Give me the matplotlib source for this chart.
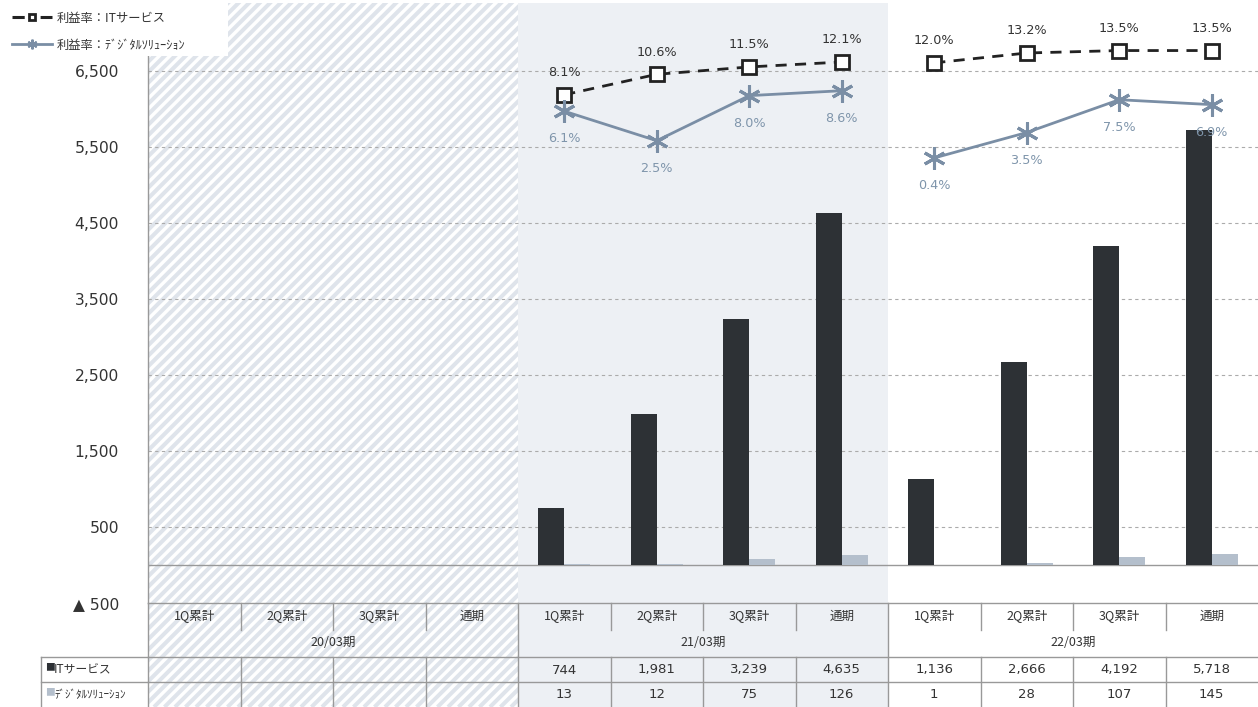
import numpy as np
import matplotlib.pyplot as plt
from matplotlib.patches import Rectangle
from matplotlib.lines import Line2D
from matplotlib.collections import LineCollection
from matplotlib.transforms import blended_transform_factory, IdentityTransform

plt.rcParams['font.family'] = ['DejaVu Sans', 'Noto Sans CJK JP']

JP = ['Noto Sans CJK JP', 'DejaVu Sans']

# data
categories = ['1Q累計', '2Q累計', '3Q累計', '通期'] * 3
periods = ['20/03期', '21/03期', '22/03期']
it_sales = [None] * 4 + [744, 1981, 3239, 4635, 1136, 2666, 4192, 5718]
ds_sales = [None] * 4 + [13, 12, 75, 126, 1, 28, 107, 145]
it_margin = [None] * 4 + [8.1, 10.6, 11.5, 12.1, 12.0, 13.2, 13.5, 13.5]
ds_margin = [None] * 4 + [6.1, 2.5, 8.0, 8.6, 0.4, 3.5, 7.5, 6.9]
yticks = [-500, 500, 1500, 2500, 3500, 4500, 5500, 6500]

it_label = 'ITサービス'
ds_label = 'ﾃﾞｼﾞﾀﾙｿﾘｭｰｼｮﾝ'

IT_COLOR = '#2d3135'
DS_COLOR = '#b4bfcc'
LINE_DS = '#7a8ea5'
TXT = '#333333'
GRID = '#ababab'
LC = '#999999'

W, H = 1258, 707
fig = plt.figure(figsize=(W / 100, H / 100), dpi=100)
ax = fig.add_axes([148 / W, (H - 603) / H, (W - 148) / W, 600 / H])
ax.set_facecolor('none')

x = np.arange(len(categories))
bw = 0.28

ax.set_xlim(-0.5, len(categories) - 0.5)
ax.set_ylim(-500, 7395)

# axes y fraction of a pixel row
def yf(p):
    return (603 - p) / 600

tr = blended_transform_factory(ax.transData, ax.transAxes)

# period backgrounds (run down through the table)
bottom = yf(H)
hatch_bg = Rectangle((-0.5, bottom), 4, 1 - bottom, transform=tr, facecolor='white',
                     edgecolor='none', linewidth=0, clip_on=False, zorder=0)
ax.add_patch(hatch_bg)
stripes = [[(c, 0), (c + H, H)] for c in np.arange(-H, W, 10.5)]
lc = LineCollection(stripes, colors='#dfe4eb', linewidths=2.9, transform=IdentityTransform(),
                    zorder=0.1)
ax.add_collection(lc, autolim=False)
lc.set_clip_path(hatch_bg)
ax.add_patch(Rectangle((3.5, bottom), 4, 1 - bottom, transform=tr, facecolor='#edf0f4',
                       edgecolor='none', linewidth=0, clip_on=False, zorder=0))

# grid
for t in yticks[1:]:
    ax.axhline(t, color=GRID, lw=0.8, ls=(0, (3, 3)), zorder=0.5)
ax.axhline(0, color=LC, lw=1.0, zorder=0.6)

# bars
it_vals = [np.nan if v is None else v for v in it_sales]
ds_vals = [np.nan if v is None else v for v in ds_sales]
ax.bar(x - bw / 2, it_vals, bw, color=IT_COLOR, zorder=2)
ax.bar(x + bw / 2, ds_vals, bw, color=DS_COLOR, zorder=2)

for s in ['top', 'right']:
    ax.spines[s].set_visible(False)
for s in ['left', 'bottom']:
    ax.spines[s].set_color(LC)
    ax.spines[s].set_linewidth(1.0)

ax.set_xticks([])
ax.set_yticks(yticks)
ax.set_yticklabels(['▲ 500' if t < 0 else f'{t:,}' for t in yticks])
ax.tick_params(axis='y', length=0, pad=21, labelsize=11.2, labelcolor=TXT)

# margin lines on a hidden secondary axis
ax2 = ax.twinx()
ax2.set_ylim(-53.9, 19.3)
ax2.axis('off')
ax2.set_xlim(ax.get_xlim())

for start in (4, 8):
    idx = list(range(start, start + 4))
    ax2.plot(x[idx], [it_margin[i] for i in idx], color='#222222', lw=2, dashes=(4, 3),
             marker='s', markersize=10, markerfacecolor='white', markeredgecolor='#222222',
             markeredgewidth=2, zorder=3)
    ax2.plot(x[idx], [ds_margin[i] for i in idx], color=LINE_DS, lw=2,
             marker=(6, 2, 0), markersize=16, markeredgecolor=LINE_DS,
             markeredgewidth=2.2, zorder=3)
    for i in idx:
        ax2.annotate(f'{it_margin[i]:.1f}%', (x[i], it_margin[i]), xytext=(0, 16),
                     textcoords='offset points', ha='center', va='center',
                     fontsize=9.2, color=TXT, zorder=4)
        ax2.annotate(f'{ds_margin[i]:.1f}%', (x[i], ds_margin[i]), xytext=(0, -20),
                     textcoords='offset points', ha='center', va='center',
                     fontsize=9.2, color='#7f95ab', zorder=4)

# table under the chart
kw = dict(transform=tr, clip_on=False, color=LC, lw=1.0, zorder=1)
for xv in np.arange(-0.5, len(categories) + 0.5, 1.0):
    if xv in (3.5, 7.5):
        ax.plot([xv, xv], [yf(603), yf(H)], **kw)
    elif -0.5 < xv < len(categories) - 0.5:
        ax.plot([xv, xv], [yf(603), yf(630)], **kw)
        ax.plot([xv, xv], [yf(657), yf(H)], **kw)
ax.plot([-0.5, -0.5], [yf(603), yf(H)], **kw)
for p in (657, 682):
    ax.plot([-0.5, len(categories) - 0.5], [yf(p), yf(p)], **kw)

fig.add_artist(Line2D([41 / W, 148 / W], [1 - 657 / H, 1 - 657 / H], color=LC, lw=1.0))
fig.add_artist(Line2D([41 / W, 148 / W], [1 - 682 / H, 1 - 682 / H], color=LC, lw=1.0))
fig.add_artist(Line2D([41 / W, 41 / W], [1 - 657 / H, 0], color=LC, lw=1.0))

for i, c in enumerate(categories):
    ax.text(x[i], yf(616), c, transform=tr, ha='center', va='center', fontsize=9,
            color=TXT, family=JP, clip_on=False)
for k, p in enumerate(periods):
    ax.text(4 * k + 1.5, yf(643), p, transform=tr, ha='center', va='center', fontsize=9,
            color=TXT, family=JP, clip_on=False)
for i in x:
    if it_sales[i] is not None:
        ax.text(x[i], yf(670), f'{it_sales[i]:,}', transform=tr, ha='center', va='center',
                fontsize=9.5, color=TXT, clip_on=False)
        ax.text(x[i], yf(695), f'{ds_sales[i]:,}', transform=tr, ha='center', va='center',
                fontsize=9.5, color=TXT, clip_on=False)

fig.text(45 / W, 1 - 667 / H, '■', fontsize=7, color=IT_COLOR, ha='left', va='center', family=JP)
fig.text(54 / W, 1 - 670 / H, it_label, fontsize=8.5, color=TXT, ha='left', va='center', family=JP)
fig.text(45 / W, 1 - 692 / H, '■', fontsize=7, color=DS_COLOR, ha='left', va='center', family=JP)
fig.text(54 / W, 1 - 695 / H, ds_label, fontsize=8, color=TXT, ha='left', va='center', family=JP)

# legend with its white box
fig.add_artist(Rectangle((0, 1 - 56 / H), 228 / W, 56 / H, transform=fig.transFigure,
                         facecolor='white', edgecolor='none', zorder=4))
handles = [
    Line2D([], [], color='#222222', lw=2.2, dashes=(4, 5.2), marker='s', markersize=5,
           markerfacecolor='white', markeredgecolor='#222222', markeredgewidth=2),
    Line2D([], [], color=LINE_DS, lw=2, marker=(6, 2, 0), markersize=7,
           markeredgecolor=LINE_DS, markeredgewidth=1.5),
]
fig.legend(handles, ['利益率：' + it_label, '利益率：' + ds_label], loc='upper left',
           bbox_to_anchor=(0, 1), frameon=False,
           prop={'family': JP, 'size': 8.8}, labelcolor=TXT,
           handlelength=3.3, handletextpad=0.4, labelspacing=1.15, borderpad=0.85,
           borderaxespad=0.1)

fig.savefig('out.png', dpi=100)
